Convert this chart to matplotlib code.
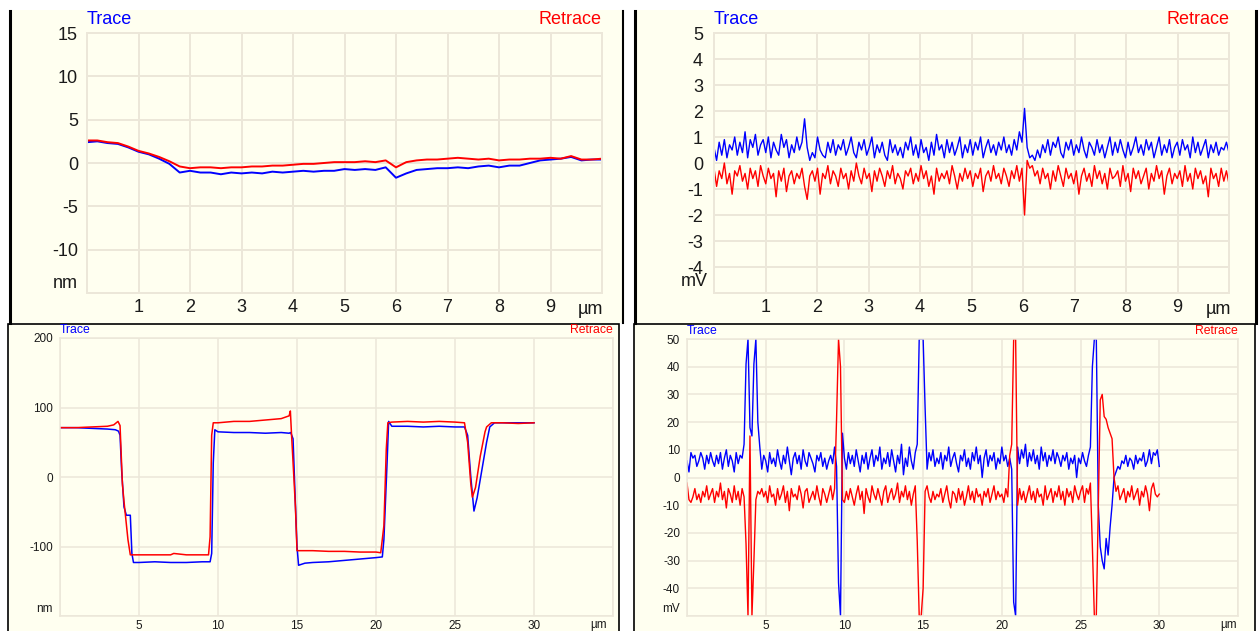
import numpy as np
import matplotlib
matplotlib.use("Agg")
import matplotlib.pyplot as plt
from matplotlib.patches import Rectangle
from matplotlib.lines import Line2D

plt.rcParams['font.family'] = ['Liberation Sans', 'DejaVu Sans']

# ---- top left: height (nm) over 10 um
tl_x = np.linspace(0, 10, 51)
tl_trace = [2.4, 2.5, 2.3, 2.2, 1.8, 1.3, 1.0, 0.5, -0.1, -1.1,
            -0.9, -1.1, -1.1, -1.3, -1.1, -1.2, -1.1, -1.2, -1.0, -1.1,
            -1.0, -0.9, -1.0, -0.9, -0.9, -0.7, -0.8, -0.7, -0.8, -0.5,
            -1.7, -1.2, -0.8, -0.7, -0.6, -0.6, -0.5, -0.6, -0.4, -0.3,
            -0.5, -0.3, -0.3, 0.0, 0.3, 0.4, 0.5, 0.7, 0.3, 0.4,
            0.4]
tl_retrace = [2.6, 2.6, 2.4, 2.3, 1.9, 1.4, 1.1, 0.7, 0.2, -0.4,
              -0.6, -0.5, -0.5, -0.6, -0.5, -0.5, -0.4, -0.4, -0.3, -0.3,
              -0.2, -0.1, -0.1, 0.0, 0.1, 0.1, 0.1, 0.2, 0.1, 0.3,
              -0.5, 0.1, 0.3, 0.4, 0.4, 0.5, 0.6, 0.5, 0.4, 0.5,
              0.3, 0.4, 0.4, 0.5, 0.5, 0.6, 0.5, 0.8, 0.4, 0.4,
              0.5]

# ---- top right: signal (mV) over 10 um
tr_x = np.linspace(0, 10, 200)
tr_trace = [0.6, 0.1, 0.8, 0.3, 0.9, 0.2, 0.7, 0.5, 1.0, 0.3,
            0.8, 0.4, 1.2, 0.2, 0.9, 0.6, 1.1, 0.3, 0.7, 0.9,
            0.4, 1.0, 0.2, 0.8, 0.5, 0.3, 1.1, 0.6, 0.9, 0.2,
            0.7, 0.4, 1.0, 0.5, 0.8, 1.7, 0.6, 0.1, 0.4, 0.2,
            1.0, 0.5, 0.3, 0.2, 0.8, 0.4, 0.9, 0.3, 0.7, 0.5,
            0.9, 0.3, 0.6, 1.0, 0.4, 0.2, 0.8, 0.5, 0.9, 0.3,
            0.6, 1.0, 0.2, 0.7, 0.4, 0.8, 0.3, 0.1, 0.9, 0.4,
            0.7, 0.3, 0.6, 0.2, 0.8, 0.5, 1.0, 0.3, 0.7, 0.2,
            0.9, 0.4, 0.6, 0.1, 0.8, 0.3, 1.1, 0.5, 0.7, 0.2,
            0.9, 0.4, 0.8, 0.3, 0.6, 1.0, 0.2, 0.7, 0.4, 0.9,
            0.3, 0.8, 0.5, 1.0, 0.2, 0.6, 0.9, 0.4, 0.7, 0.3,
            0.8, 0.5, 1.0, 0.4, 0.7, 0.3, 0.9, 0.5, 1.2, 0.8,
            2.1, 0.6, 0.2, 0.3, 0.1, 0.5, 0.2, 0.7, 0.4, 0.9,
            0.3, 0.8, 0.6, 1.0, 0.4, 0.2, 0.8, 0.5, 0.9, 0.3,
            0.7, 0.4, 1.0, 0.5, 0.2, 0.8, 0.6, 0.3, 0.9, 0.4,
            0.7, 0.2, 0.6, 1.0, 0.3, 0.8, 0.4, 0.9, 0.5, 0.2,
            0.8, 0.3, 0.6, 1.0, 0.4, 0.7, 0.3, 0.9, 0.5, 0.8,
            0.2, 0.6, 1.0, 0.3, 0.7, 0.4, 0.9, 0.2, 0.6, 0.8,
            0.3, 0.9, 0.5, 0.7, 0.2, 1.0, 0.4, 0.8, 0.3, 0.6,
            0.9, 0.2, 0.7, 0.4, 0.8, 0.3, 0.6, 0.5, 0.8, 0.4]
tr_retrace = [-0.2, -0.9, -0.3, -0.6, 0.0, -0.8, -0.4, -1.2, -0.3, -0.5,
              -0.1, -0.7, -0.4, -1.0, -0.2, -0.6, -0.3, -0.9, -0.1, -0.5,
              -0.8, -0.2, -0.6, -0.4, -1.3, -0.3, -0.7, -0.2, -1.1, -0.5,
              -0.3, -0.8, -0.4, -0.6, -0.2, -0.9, -1.4, -0.5, -0.3, -0.7,
              -0.2, -1.2, -0.4, -0.6, -0.1, -0.8, -0.3, -0.5, -0.9, -0.2,
              -0.6, -0.4, -1.0, -0.3, -0.7, 0.0, -0.5, -0.8, -0.2, -0.6,
              -0.4, -1.1, -0.3, -0.7, -0.2, -0.5, -0.9, -0.3, -0.6, -0.1,
              -0.8, -0.4, -0.6, -1.0, -0.3, -0.5, -0.2, -0.8, -0.4, -0.7,
              -0.1, -0.6, -0.3, -0.9, -0.5, -1.2, -0.2, -0.7, -0.4, -0.6,
              -0.3, -0.8, -0.1, -0.5, -1.0, -0.4, -0.7, -0.2, -0.6, -0.3,
              -0.9, -0.4, -0.6, -0.2, -1.1, -0.5, -0.3, -0.7, -0.1, -0.6,
              -0.4, -0.8, -0.2, -0.5, -0.9, -0.3, -0.6, -0.1, -0.7, -0.2,
              -2.0, 0.1, -0.2, -0.1, -0.5, -0.3, -0.8, -0.2, -0.6, -0.4,
              -1.0, -0.3, -0.7, -0.1, -0.5, -0.9, -0.2, -0.6, -0.4, -0.8,
              -0.3, -1.2, -0.5, -0.2, -0.7, -0.4, -0.9, -0.1, -0.6, -0.3,
              -0.8, -0.4, -1.0, -0.2, -0.6, -0.5, -0.3, -0.9, -0.1, -0.7,
              -0.4, -1.1, -0.2, -0.6, -0.3, -0.8, -0.5, -0.2, -1.0, -0.4,
              -0.7, -0.1, -0.6, -0.3, -1.2, -0.5, -0.2, -0.8, -0.4, -0.6,
              -0.3, -0.9, -0.1, -0.7, -0.4, -1.0, -0.2, -0.6, -0.3, -0.8,
              -0.5, -1.3, -0.2, -0.6, -0.4, -0.9, -0.2, -0.7, -0.3, -0.8]

# ---- bottom left: height (nm) over 30 um
bl_trace_x = [0, 1, 2, 3, 3.5, 3.7, 3.8, 3.9, 4.05, 4.2, 4.45, 4.55,
              4.65, 5, 6, 7, 8, 9, 9.5, 9.6, 9.7, 9.8, 10, 11,
              12, 13, 14, 14.5, 14.6, 14.75, 14.9, 15.0, 15.1, 15.5, 16, 17,
              18, 19, 20, 20.4, 20.5, 20.7, 20.8, 21, 22, 23, 24, 25,
              25.6, 25.8, 26.0, 26.2, 26.4, 26.7, 27.0, 27.2, 27.5, 28, 29, 30]
bl_trace = [71, 71, 70, 69, 68, 66, 60, 10, -43, -55, -55, -110,
            -123, -123, -122, -123, -123, -122, -122, -110, 20, 68, 65, 64,
            64, 63, 64, 63, 64, 55, -40, -100, -127, -124, -123, -122,
            -120, -118, -116, -115, -90, 20, 80, 73, 73, 72, 73, 72,
            72, 60, 0, -49, -30, 10, 50, 72, 78, 78, 78, 78]
bl_retrace_x = [0, 1, 2, 3, 3.4, 3.67, 3.8, 3.95, 4.05, 4.15, 4.3, 4.45,
                5, 6, 7, 7.2, 8, 9, 9.4, 9.5, 9.6, 9.7, 10, 11,
                12, 13, 14, 14.5, 14.58, 14.65, 14.8, 14.9, 15.0, 16, 17, 18,
                19, 20, 20.3, 20.5, 20.65, 20.75, 21, 22, 23, 24, 25, 25.6,
                25.8, 26.0, 26.1, 26.3, 26.6, 26.9, 27.0, 27.3, 28, 29, 30]
bl_retrace = [71, 71, 72, 73, 75, 80, 74, -10, -35, -57, -90, -112,
              -112, -112, -112, -110, -112, -112, -112, -86, 60, 78, 78, 80,
              80, 82, 84, 88, 95, 63, 0, -43, -106, -106, -107, -107,
              -108, -108, -109, -70, 40, 78, 79, 80, 79, 80, 79, 78,
              50, -10, -29, -15, 30, 65, 72, 78, 78, 77, 78]

# ---- bottom right: signal (mV) over 30 um
br_x = np.linspace(0, 30, 241)
br_trace = [6, 2, 9, 7, 8, 4, 6, 9,
            7, 3, 8, 5, 9, 6, 4, 8,
            5, 9, 3, 7, 10, 4, 8, 6,
            2, 9, 5, 8, 7, 12, 41, 50,
            18, 15, 41, 50, 20, 11, 3, 8,
            6, 2, 9, 5, 7, 4, 10, 6,
            3, 8, 5, 11, 6, 1, 7, 9,
            5, 8, 3, 10, 6, 4, 9, 7,
            5, 2, 8, 6, 9, 4, 7, 3,
            6, 8, 5, 11, 4, -38, -50, 16,
            7, 3, 9, 5, 8, 4, 10, 6,
            2, 8, 5, 9, 3, 7, 10, 4,
            8, 6, 11, 3, 7, 5, 9, 4,
            10, 6, 2, 8, 5, 12, 1, 7,
            4, 11, 6, 3, 9, 12, 50, 50,
            50, 25, 3, 9, 6, 10, 4, 7,
            5, 9, 3, 8, 6, 11, 4, 7,
            9, 5, 2, 8, 6, 10, 4, 7,
            3, 9, 6, 11, 5, 8, 0, 7,
            10, 4, 8, 6, 9, 3, 7, 5,
            11, 6, 8, 4, 7, 3, -45, -50,
            11, 5, 10, 7, 12, 4, 9, 6,
            10, 5, 8, 3, 11, 6, 9, 4,
            8, 6, 10, 5, 9, 7, 4, 8,
            6, 9, 3, 7, 5, 8, 0, 7,
            5, 9, 6, 4, 8, 11, 40, 50,
            50, -10, -25, -30, -33, -22, -28, -18,
            -10, 0, 2, 4, 3, 6, 5, 8,
            4, 7, 6, 3, 8, 5, 7, 6,
            9, 4, 6, 10, 5, 9, 8, 10,
            4]
br_retrace = [-2, -8, -9, -7, -4, -8, -6, -9,
              -5, -7, -3, -8, -6, -4, -9, -5,
              -7, -2, -8, -5, -11, -4, -6, -9,
              -3, -8, -5, -10, -4, -7, -24, -50,
              15, -50, -30, -8, -5, -6, -4, -7,
              -5, -9, -3, -7, -6, -10, -4, -8,
              -6, -3, -9, -5, -12, -4, -7, -6,
              -8, -3, -6, -11, -5, -4, -9, -7,
              -5, -8, -3, -7, -10, -4, -6, -9,
              -6, -3, -8, -4, 21, 50, 40, -8,
              -9, -5, -8, -4, -7, -10, -6, -3,
              -8, -5, -13, -4, -7, -9, -3, -6,
              -8, -4, -7, -10, -5, -3, -9, -6,
              -4, -8, -6, -2, -9, -5, -7, -3,
              -8, -5, -10, -6, -3, -23, -50, -50,
              -40, -5, -3, -7, -9, -5, -8, -6,
              -7, -4, -9, -6, -3, -8, -11, -5,
              -6, -9, -4, -8, -5, -10, -7, -3,
              -8, -5, -9, -4, -7, -6, -10, -5,
              -7, -4, -9, -6, -3, -8, -5, -7,
              -6, -9, -4, -7, 8, 12, 50, 50,
              -10, -4, -8, -5, -9, -6, -3, -8,
              -5, -9, -4, -7, -6, -10, -3, -8,
              -6, -4, -9, -5, -7, -3, -8, -5,
              -10, -4, -7, -5, -9, -3, -6, -8,
              -5, -3, -9, -4, -6, -2, -25, -50,
              -50, -10, 28, 30, 22, 21, 18, 16,
              14, 0, -5, -3, -8, -6, -4, -9,
              -5, -7, -3, -8, -6, -4, -10, -5,
              -7, -3, -6, -12, -4, -2, -6, -7,
              -6]

W, H = 1259, 631
BG = '#fffff0'
GRID = '#ece7d9'
TXT = '#1a1a1a'
BLUE = '#0000ff'
RED = '#ff0000'
PT = 0.72  # points per pixel at 100 dpi

fig = plt.figure(figsize=(W / 100, H / 100), dpi=100, facecolor='white')


def rect(l, t, r, b, fc, ec='none', lw=0):
    fig.add_artist(Rectangle((l / W, 1 - b / H), (r - l) / W, (b - t) / H,
                             transform=fig.transFigure, fc=fc, ec=ec, lw=lw,
                             zorder=-10))


def vline(x, t, b, lw):
    fig.add_artist(Line2D([x / W, x / W], [1 - t / H, 1 - b / H],
                          transform=fig.transFigure, color='black', lw=lw,
                          zorder=-5))


# panel backgrounds and frames
rect(10, 10, 623, 323, BG)
rect(634, 10, 1255, 323, BG)
vline(10, 11, 323, 2.2)
vline(623, 11, 323, 1.5)
vline(634.5, 11, 323, 2.2)
vline(1255.5, 11, 323, 2.2)
rect(8, 324, 619, 632, BG, 'black', 1.2)
rect(634, 324, 1255, 632, BG, 'black', 1.2)


def panel(l, t, r, b, xlim, ylim, xstep, ystep, fs, glw, ypad, xpad,
          unit, unit_off, um_off, title_off, tfs):
    ax = fig.add_axes([l / W, 1 - b / H, (r - l) / W, (b - t) / H])
    ax.set_facecolor(BG)
    ax.set_xlim(xlim)
    ax.set_ylim(ylim)
    xt = np.arange(xlim[0], xlim[1] + xstep / 2, xstep)
    yt = np.arange(ylim[0], ylim[1] + ystep / 2, ystep)
    ax.set_xticks(xt)
    ax.set_xticklabels([''] + ['%g' % v for v in xt[1:-1]] + [''])
    ax.set_yticks(yt)
    ax.set_yticklabels([''] + ['%g' % v for v in yt[1:]])
    ax.tick_params(length=0, labelsize=fs, labelcolor=TXT)
    ax.tick_params(axis='y', pad=ypad * PT)
    ax.tick_params(axis='x', pad=xpad * PT)
    ax.grid(True, color=GRID, lw=glw * PT)
    ax.set_axisbelow(True)
    for s in ax.spines.values():
        s.set_color(GRID)
        s.set_linewidth(glw * PT)
    ax.annotate(unit, xy=(0, 0), xycoords='axes fraction',
                xytext=(unit_off[0] * PT, unit_off[1] * PT), textcoords='offset points',
                ha='right', va='center', fontsize=fs, color=TXT)
    ax.annotate('µm', xy=(1, 0), xycoords='axes fraction',
                xytext=(um_off[0] * PT, um_off[1] * PT), textcoords='offset points',
                ha='center', va='center', fontsize=fs, color=TXT)
    ax.annotate('Trace', xy=(0, 1), xycoords='axes fraction',
                xytext=(0, title_off * PT), textcoords='offset points',
                ha='left', va='center', fontsize=tfs, color=BLUE)
    ax.annotate('Retrace', xy=(1, 1), xycoords='axes fraction',
                xytext=(0, title_off * PT), textcoords='offset points',
                ha='right', va='center', fontsize=tfs, color=RED)
    return ax


ax1 = panel(87, 33, 602, 293, (0, 10), (-15, 15), 1, 5, 13, 2, 9, 6,
            'nm', (-9, 10), (-12, -17), 14, 13)
ax1.plot(tl_x, tl_trace, color=BLUE, lw=1.4)
ax1.plot(tl_x, tl_retrace, color=RED, lw=1.4)

ax2 = panel(714, 33, 1229, 293, (0, 10), (-5, 5), 1, 1, 13, 2, 11, 6,
            'mV', (-6, 12), (-11, -17), 14, 13)
ax2.plot(tr_x, tr_trace, color=BLUE, lw=1.0)
ax2.plot(tr_x, tr_retrace, color=RED, lw=1.0)

ax3 = panel(60, 338, 613, 616, (0, 35), (-200, 200), 5, 100, 8.5, 1.5, 7, 4,
            'nm', (-7, 7), (-14, -9), 8, 8.8)
ax3.plot(bl_trace_x, bl_trace, color=BLUE, lw=1.1)
ax3.plot(bl_retrace_x, bl_retrace, color=RED, lw=1.1)

ax4 = panel(687, 339, 1238, 616, (0, 35), (-50, 50), 5, 10, 8.5, 1.5, 7, 4,
            'mV', (-7, 7), (-9, -9), 8, 8.8)
ax4.plot(br_x, br_trace, color=BLUE, lw=1.0)
ax4.plot(br_x, br_retrace, color=RED, lw=1.0)

fig.savefig('out.png', dpi=100, facecolor='white')
